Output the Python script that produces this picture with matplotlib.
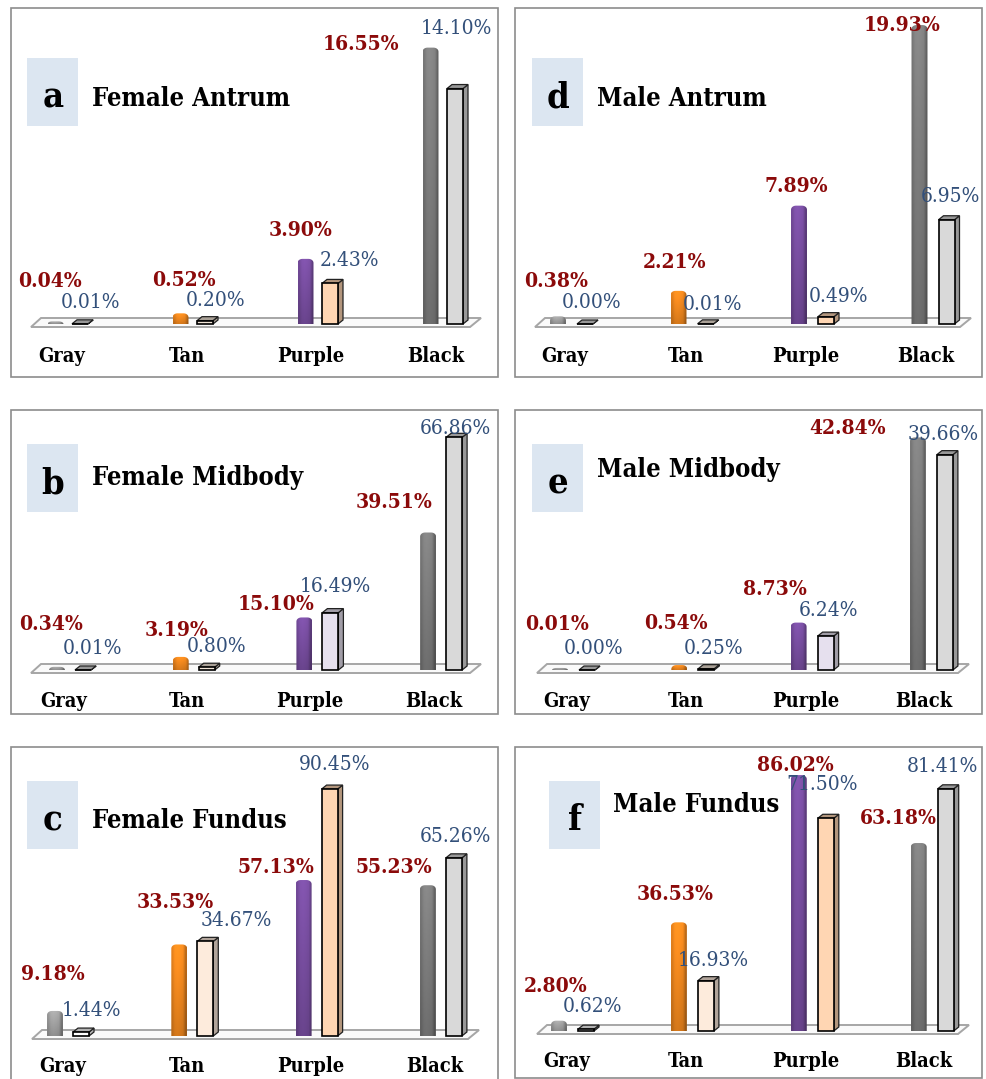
import numpy as np
import matplotlib
matplotlib.use("Agg")
import matplotlib.pyplot as plt
from matplotlib.patches import Polygon, Rectangle
from matplotlib.transforms import Affine2D

W, H = 987, 1079
plt.rcParams['font.family'] = ['DejaVu Serif']
plt.rcParams['font.stretch'] = 'condensed'

categories = ["Gray", "Tan", "Purple", "Black"]

# series values (first = dark bar, second = pale bar), percent
a_dark = [0.04, 0.52, 3.90, 16.55]
a_pale = [0.01, 0.20, 2.43, 14.10]
b_dark = [0.34, 3.19, 15.10, 39.51]
b_pale = [0.01, 0.80, 16.49, 66.86]
c_dark = [9.18, 33.53, 57.13, 55.23]
c_pale = [1.44, 34.67, 90.45, 65.26]
d_dark = [0.38, 2.21, 7.89, 19.93]
d_pale = [0.00, 0.01, 0.49, 6.95]
e_dark = [0.01, 0.54, 8.73, 42.84]
e_pale = [0.00, 0.25, 6.24, 39.66]
f_dark = [2.80, 36.53, 86.02, 63.18]
f_pale = [0.62, 16.93, 71.50, 81.41]

dark_cols = ["#A6A6A6", "#F68B1F", "#7A4FA3", "#7F7F7F"]
PEACH, LAV, CREAM, GREY = "#FFD6B3", "#E6E0EE", "#FDEBDC", "#D9D9D9"

panels = [
    dict(letter="a", title="Female Antrum", dark=a_dark, pale=a_pale, box=(11, 8, 498, 377), base=324, scale=16.7,
         dark0=55.5, pale0=72, step=125, pale_cols=["#D9D9D9", "#F3E6D8", PEACH, GREY],
         floor=(31, 470, 318, 327), badge=(27, 58), title_xy=(92, 99), cat_y=356, cat_x=[62, 187, 311, 436],
         red_xy=[(50, 281), (184, 280), (301, 230), (361, 44)], blue_xy=[(90, 303), (216, 301), (349, 261), (456, 29)]),
    dict(letter="b", title="Female Midbody", dark=b_dark, pale=b_pale, box=(11, 410, 498, 714), base=670, scale=3.48,
         dark0=57, pale0=75, step=123.7, pale_cols=["#D9D9D9", "#F3E6D8", LAV, GREY],
         floor=(31, 470, 664, 673), badge=(27, 444), title_xy=(92, 477), cat_y=701, cat_x=[64, 187, 310, 434],
         red_xy=[(51, 624), (177, 630), (276, 604), (394, 502)], blue_xy=[(92, 648), (217, 646), (335, 587), (455, 428)]),
    dict(letter="c", title="Female Fundus", dark=c_dark, pale=c_pale, box=(11, 747, 498, 1090), base=1036, scale=2.73,
         dark0=55, pale0=73, step=124.3, pale_cols=["#FFFFFF", CREAM, PEACH, GREY],
         floor=(32, 468, 1030, 1039), badge=(27, 781), title_xy=(92, 821), cat_y=1066, cat_x=[63, 187, 311, 435],
         red_xy=[(53, 974), (175, 902), (276, 867), (394, 867)], blue_xy=[(91, 1010), (236, 920), (335, 765), (455, 836)]),
    dict(letter="d", title="Male Antrum", dark=d_dark, pale=d_pale, box=(515, 8, 982, 377), base=324, scale=15.0,
         dark0=558, pale0=577, step=120.5, pale_cols=["#D9D9D9", "#F3E6D8", PEACH, GREY],
         floor=(535, 960, 318, 327), badge=(532, 58), title_xy=(597, 98), cat_y=356, cat_x=[565, 686, 806, 926],
         red_xy=[(556, 281), (675, 262), (796, 186), (902, 25)], blue_xy=[(592, 303), (713, 304), (838, 296), (950, 197)]),
    dict(letter="e", title="Male Midbody", dark=e_dark, pale=e_pale, box=(515, 410, 982, 714), base=670, scale=5.43,
         dark0=560, pale0=579, step=119.3, pale_cols=["#D9D9D9", "#F3E6D8", LAV, GREY],
         floor=(537, 958, 664, 673), badge=(532, 444), title_xy=(597, 469), cat_y=701, cat_x=[567, 686, 806, 924],
         red_xy=[(557, 624), (676, 623), (775, 589), (848, 428)], blue_xy=[(594, 648), (714, 648), (828, 610), (943, 434)]),
    dict(letter="f", title="Male Fundus", dark=f_dark, pale=f_pale, box=(515, 747, 982, 1078), base=1031, scale=2.975,
         dark0=559, pale0=578, step=119.9, pale_cols=["#FFFFFF", CREAM, PEACH, GREY],
         floor=(537, 958, 1025, 1034), badge=(549, 781), title_xy=(613, 805), cat_y=1061, cat_x=[567, 686, 806, 924],
         red_xy=[(556, 986), (675, 894), (795, 765), (898, 818)], blue_xy=[(592, 1007), (713, 960), (822, 785), (942, 767)]),
]

fig = plt.figure(figsize=(W / 100, H / 100), dpi=100, facecolor="white")
px = Affine2D().scale(1 / W, -1 / H).translate(0, 1) + fig.transFigure

BW, DEPTH_X, DEPTH_Y = 16.0, 5.0, 4.0
SMALL_PX, LIFT_PX = 15.0, 2.0


def shade(color):
    rgb = np.array(matplotlib.colors.to_rgb(color))
    u = np.array([0.90, 1.02, 1.04, 1.02, 0.98, 0.74])
    v = np.linspace(1.05, 0.84, 24)
    return np.clip(rgb[None, None, :] * (v[:, None] * u[None, :])[:, :, None], 0, 1)


def draw_panel(p):
    x0, y0, x1, y1 = p["box"]
    fig.add_artist(Rectangle((x0, y0), x1 - x0, y1 - y0, transform=px, fc="white", ec="#8C8C8C", lw=1.2, zorder=0))
    fl, fr, ft, fb = p["floor"]
    fig.add_artist(Polygon([(fl, fb + 1), (fl + 10, ft + 1), (fr + 11, ft + 1), (fr, fb + 1)], closed=True, transform=px,
                           fc="#DDDDDD", ec="none", zorder=1))
    fig.add_artist(Polygon([(fl, fb), (fl + 10, ft), (fr + 11, ft), (fr, fb)], closed=True, transform=px,
                           fc="#FAFAFA", ec="#A6A6A6", lw=1.4, zorder=1))
    ax = fig.add_axes([x0 / W, 1 - y1 / H, (x1 - x0) / W, (y1 - y0) / H], zorder=2)
    ax.axis("off")
    s, base, step = p["scale"], p["base"], p["step"]
    xlim = ((x0 - p["dark0"]) / step, (x1 - p["dark0"]) / step)
    ylim = ((base - y1) / s, (base - y0) / s)
    bw = BW / step
    dx, dy = DEPTH_X / step, DEPTH_Y / s
    offs = (p["pale0"] - p["dark0"]) / step
    idx = np.arange(len(categories))

    for i, v in zip(idx, p["dark"]):
        h = v * s
        top = (h + LIFT_PX if h < SMALL_PX else h) / s
        ry = min(4.0, top * s) / s
        rx = 5.0 / step
        th = np.linspace(np.pi, np.pi / 2, 8)
        lx = i - bw / 2 + rx + rx * np.cos(th)
        ly = top - ry + ry * np.sin(th)
        rxs = 2 * i - lx[::-1]
        xy = [(i - bw / 2, 0)] + list(zip(lx, ly)) + list(zip(rxs, ly[::-1])) + [(i + bw / 2, 0)]
        poly = Polygon(xy, closed=True, fc="none", ec="none")
        ax.add_patch(poly)
        im = ax.imshow(shade(dark_cols[i]), extent=(i - bw / 2, i + bw / 2, 0, top),
                       aspect="auto", interpolation="bilinear", origin="upper", zorder=3)
        im.set_clip_path(poly)

    for i, v in zip(idx, p["pale"]):
        c = p["pale_cols"][i]
        left = i + offs
        side = tuple(np.array(matplotlib.colors.to_rgb(c)) * 0.7)
        ax.add_patch(Polygon([(left + bw, 0), (left + bw + dx, dy), (left + bw + dx, v + dy), (left + bw, v)],
                             closed=True, fc=side, ec="#222222", lw=0.9, zorder=4))
        ax.add_patch(Polygon([(left, v), (left + dx, v + dy), (left + bw + dx, v + dy), (left + bw, v)],
                             closed=True, fc=side, ec="#222222", lw=0.9, zorder=4))
    ax.bar(idx + offs + bw / 2, p["pale"], width=bw, color=p["pale_cols"], edgecolor="black", linewidth=1.2, zorder=5)
    ax.set_xlim(xlim)
    ax.set_ylim(ylim)

    for v, (tx, ty) in zip(p["dark"], p["red_xy"]):
        fig.text(tx, ty, f"{v:.2f}%", transform=px, color="#8B0A0A", fontsize=15, fontweight="bold",
                 ha="center", va="center", zorder=6)
    for v, (tx, ty) in zip(p["pale"], p["blue_xy"]):
        fig.text(tx, ty, f"{v:.2f}%", transform=px, color="#33507A", fontsize=15, ha="center", va="center", zorder=6)
    for name, tx in zip(categories, p["cat_x"]):
        fig.text(tx, p["cat_y"], name, transform=px, color="black", fontsize=14.4, fontweight="bold",
                 ha="center", va="center", zorder=6)
    bx, by = p["badge"]
    fig.add_artist(Rectangle((bx, by), 51, 68, transform=px, fc="#DCE6F1", ec="none", zorder=1))
    fig.text(bx + 26, by + 49.5, p["letter"], transform=px, fontsize=26, fontweight="bold", color="black",
             ha="center", va="baseline", zorder=6)
    fig.text(p["title_xy"][0], p["title_xy"][1], p["title"], transform=px, fontsize=18.4, fontweight="bold",
             color="black", ha="left", va="center", zorder=6)


for p in panels:
    draw_panel(p)

fig.savefig("out.png", dpi=100, facecolor="white")
